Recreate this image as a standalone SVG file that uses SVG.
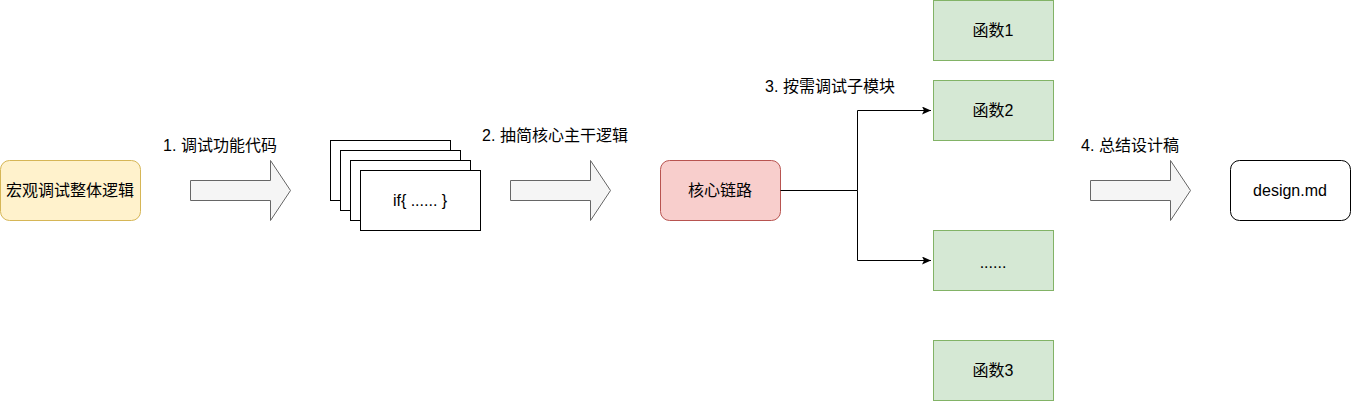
<svg xmlns="http://www.w3.org/2000/svg" width="1352" height="401" viewBox="0 0 1352 401">
<style>
text{font-family:"Liberation Sans","Noto Sans CJK SC",sans-serif;font-size:16px;fill:#000}
.c{text-anchor:middle;dominant-baseline:central}
.ba{fill:#f5f5f5;stroke:#666;stroke-width:1}
.g{fill:#d5e8d4;stroke:#82b366}
.doc{fill:#fff;stroke:#000}
.ln{fill:none;stroke:#000}
</style>
<defs><marker id="ah" markerWidth="10" markerHeight="8" refX="9" refY="4" orient="auto" markerUnits="userSpaceOnUse"><path d="M0,0 L9,4 L0,8 L2,4 Z" fill="#000"/></marker></defs>
<rect width="1352" height="401" fill="#fff"/>
<g id="n-start"><rect x="0.5" y="160.5" width="140" height="60" rx="9" fill="#fff2cc" stroke="#d6b656"/><text class="c" x="70" y="190">宏观调试整体逻辑</text></g>
<g id="a1"><path class="ba" d="M190.5,180.5 H270.5 V160.5 L290.5,190.5 L270.5,220.5 V200.5 H190.5 Z"/></g>
<text class="c" x="220" y="145">1. 调试功能代码</text>
<g id="n-docs">
<rect class="doc" x="330.5" y="140.5" width="120" height="60"/>
<rect class="doc" x="340.5" y="150.5" width="120" height="60"/>
<rect class="doc" x="350.5" y="160.5" width="120" height="60"/>
<rect class="doc" x="360.5" y="170.5" width="120" height="60"/>
<text class="c" x="420" y="200">if{ ...... }</text></g>
<g id="a2"><path class="ba" d="M510.5,180.5 H590.5 V160.5 L610.5,190.5 L590.5,220.5 V200.5 H510.5 Z"/></g>
<text class="c" x="555" y="135">2. 抽简核心主干逻辑</text>
<g id="n-core"><rect x="660.5" y="160.5" width="120" height="60" rx="9" fill="#f8cecc" stroke="#b85450"/><text class="c" x="720" y="190">核心链路</text></g>
<g id="connectors">
<path class="ln" d="M780.5,190.5 H857.5 V110.5 H931" marker-end="url(#ah)"/>
<path class="ln" d="M857.5,190.5 V260.5 H931" marker-end="url(#ah)"/>
</g>
<text class="c" x="830" y="86">3. 按需调试子模块</text>
<g id="f1"><rect class="g" x="933.5" y="0.5" width="120" height="60"/><text class="c" x="993" y="30">函数1</text></g>
<g id="f2"><rect class="g" x="933.5" y="80.5" width="120" height="60"/><text class="c" x="993" y="110">函数2</text></g>
<g id="fdots"><rect class="g" x="933.5" y="230.5" width="120" height="60"/><text class="c" x="993" y="262">......</text></g>
<g id="f3"><rect class="g" x="933.5" y="340.5" width="120" height="60"/><text class="c" x="993" y="370">函数3</text></g>
<g id="a4"><path class="ba" d="M1090.5,180.5 H1170.5 V160.5 L1190.5,190.5 L1170.5,220.5 V200.5 H1090.5 Z"/></g>
<text class="c" x="1130" y="145">4. 总结设计稿</text>
<g id="n-design"><rect x="1230.5" y="160.5" width="120" height="60" rx="9" fill="#fff" stroke="#000"/><text class="c" x="1290" y="190">design.md</text></g>
</svg>
